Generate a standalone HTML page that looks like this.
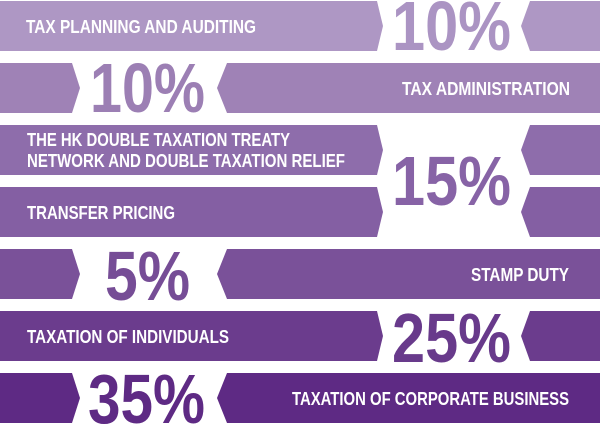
<!DOCTYPE html>
<html><head><meta charset="utf-8"><style>
html,body{margin:0;padding:0;background:#fff;width:600px;height:425px;overflow:hidden}
svg{display:block}
.l{font-family:"Liberation Sans Narrow","Liberation Sans",sans-serif;font-weight:bold;font-size:18.5px;fill:#fff}
.p{font-family:"Liberation Sans Narrow","Liberation Sans",sans-serif;font-weight:bold;font-size:70px}
</style></head><body>
<svg width="600" height="425" viewBox="0 0 600 425">
<polygon points="0,1 377,1 383,26 377,51 0,51" fill="#ae97c4"/>
<polygon points="530,1 600,1 600,51 530,51 521,26" fill="#ae97c4"/>
<text class="l" x="26" y="33" textLength="230" lengthAdjust="spacingAndGlyphs">TAX PLANNING AND AUDITING</text>
<text class="p" x="392" y="50" fill="#ab94c3" textLength="119" lengthAdjust="spacingAndGlyphs">10%</text>
<polygon points="0,63 72,63 80,88 72,113 0,113" fill="#9f82b6"/>
<polygon points="227,63 600,63 600,113 227,113 217,88" fill="#9f82b6"/>
<text class="l" x="402" y="95" textLength="168" lengthAdjust="spacingAndGlyphs">TAX ADMINISTRATION</text>
<text class="p" x="90" y="112" fill="#9c7fb4" textLength="115" lengthAdjust="spacingAndGlyphs">10%</text>
<polygon points="0,125 377,125 383,150 377,175 0,175" fill="#8e6dab"/>
<polygon points="530,125 600,125 600,175 530,175 521,150" fill="#8e6dab"/>
<text class="l" x="27" y="146" textLength="263" lengthAdjust="spacingAndGlyphs">THE HK DOUBLE TAXATION TREATY</text>
<text class="l" x="27" y="167" textLength="318" lengthAdjust="spacingAndGlyphs">NETWORK AND DOUBLE TAXATION RELIEF</text>
<polygon points="0,187 377,187 383,212 377,237 0,237" fill="#845fa3"/>
<polygon points="530,187 600,187 600,237 530,237 521,212" fill="#845fa3"/>
<text class="l" x="27" y="219" textLength="148" lengthAdjust="spacingAndGlyphs">TRANSFER PRICING</text>
<text class="p" x="392" y="205" fill="#8763a6" textLength="119" lengthAdjust="spacingAndGlyphs">15%</text>
<polygon points="0,249 72,249 80,274 72,299 0,299" fill="#7a5199"/>
<polygon points="227,249 600,249 600,299 227,299 217,274" fill="#7a5199"/>
<text class="l" x="471" y="281" textLength="98" lengthAdjust="spacingAndGlyphs">STAMP DUTY</text>
<text class="p" x="105" y="300" fill="#764d96" textLength="85" lengthAdjust="spacingAndGlyphs">5%</text>
<polygon points="0,311 377,311 383,336 377,361 0,361" fill="#6b3c8d"/>
<polygon points="530,311 600,311 600,361 530,361 521,336" fill="#6b3c8d"/>
<text class="l" x="27" y="343" textLength="202" lengthAdjust="spacingAndGlyphs">TAXATION OF INDIVIDUALS</text>
<text class="p" x="392" y="362" fill="#683a8b" textLength="119" lengthAdjust="spacingAndGlyphs">25%</text>
<polygon points="0,373 72,373 80,398 72,423 0,423" fill="#5e2a84"/>
<polygon points="227,373 600,373 600,423 227,423 217,398" fill="#5e2a84"/>
<text class="l" x="292" y="405" textLength="277" lengthAdjust="spacingAndGlyphs">TAXATION OF CORPORATE BUSINESS</text>
<text class="p" x="88" y="423" fill="#5e2a84" textLength="117" lengthAdjust="spacingAndGlyphs">35%</text>
</svg>
</body></html>
